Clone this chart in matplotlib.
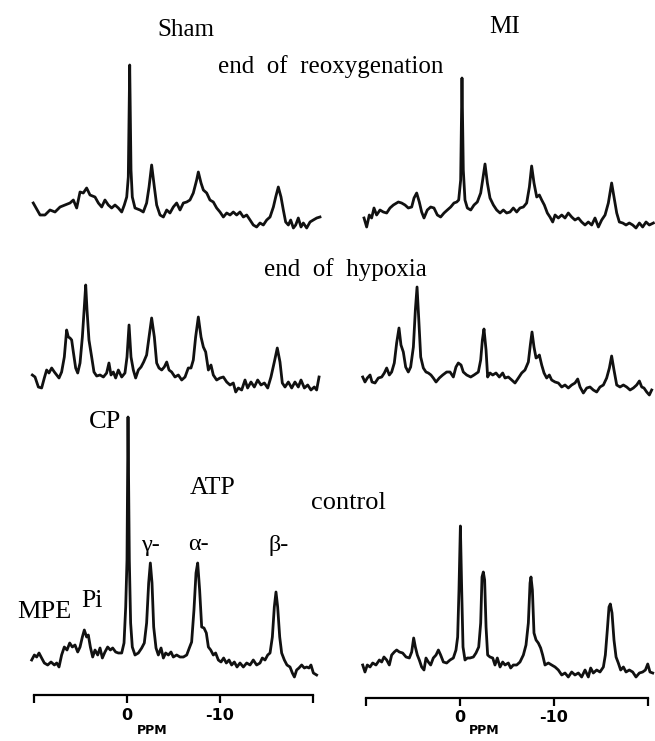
import numpy as np
import matplotlib.pyplot as plt

# 31P NMR spectra of hearts, Sham vs MI.
# Each spectrum is a list of (ppm, intensity) pairs, intensity in
# arbitrary units above the trace's own baseline.

sham_reox = [(10.08, 12), (9.35, 0), (8.82, 0), (8.28, 5), (7.74, 3), (7.20, 8), (6.67, 10),
             (6.13, 12), (5.77, 15), (5.41, 7), (5.05, 23), (4.70, 22), (4.34, 27), (3.98, 20),
             (3.44, 18), (3.08, 12), (2.72, 8), (2.37, 15), (2.01, 10), (1.65, 7), (1.29, 10),
             (0.93, 7), (0.57, 3), (0.29, 10), (0.03, 18), (-0.14, 38), (-0.29, 150), (-0.43, 45),
             (-0.57, 18), (-0.86, 7), (-1.40, 5), (-1.75, 3), (-2.11, 12), (-2.37, 28), (-2.65, 50),
             (-2.94, 28), (-3.19, 10), (-3.55, 0), (-3.91, -2), (-4.27, 5), (-4.62, 2), (-4.98, 8),
             (-5.34, 12), (-5.70, 5), (-6.06, 12), (-6.42, 13), (-6.77, 15), (-7.13, 22), (-7.49, 35),
             (-7.67, 43), (-7.96, 32), (-8.21, 25), (-8.57, 22), (-8.92, 15), (-9.28, 13), (-9.64, 7),
             (-10.00, 3), (-10.36, -2), (-10.72, 2), (-11.08, 0), (-11.43, 3), (-11.79, 0), (-12.15, 3),
             (-12.51, -2), (-12.87, 0), (-13.23, -5), (-13.58, -10), (-13.94, -12), (-14.30, -8),
             (-14.66, -10), (-15.02, -5), (-15.38, -2), (-15.74, 8), (-15.99, 18), (-16.27, 28),
             (-16.56, 18), (-16.81, 5), (-17.06, -7), (-17.35, -10), (-17.60, -5), (-17.89, -13),
             (-18.14, -10), (-18.42, -3), (-18.71, -12), (-18.96, -8), (-19.32, -13), (-19.68, -7),
             (-20.03, -5), (-20.40, -3), (-20.75, -2)]

mi_reox = [(10.21, -3), (9.93, -12), (9.65, 0), (9.40, -3), (9.15, 7), (8.87, 0), (8.51, 5),
           (8.16, 3), (7.80, 2), (7.45, 7), (7.09, 10), (6.56, 13), (6.21, 12), (5.85, 10),
           (5.50, 7), (5.14, 8), (4.89, 17), (4.61, 22), (4.33, 13), (4.08, 3), (3.83, -3),
           (3.48, 5), (3.12, 8), (2.77, 7), (2.41, 0), (2.06, -2), (1.70, 2), (1.35, 5), (0.99, 8),
           (0.64, 12), (0.35, 13), (0.14, 15), (-0.07, 35), (-0.21, 137), (-0.35, 45), (-0.53, 15),
           (-0.78, 7), (-1.14, 5), (-1.49, 10), (-1.84, 13), (-2.20, 22), (-2.41, 35), (-2.66, 51),
           (-2.91, 32), (-3.19, 17), (-3.55, 10), (-3.90, 5), (-4.26, 2), (-4.61, 5), (-4.96, 2),
           (-5.32, 3), (-5.67, 7), (-6.03, 3), (-6.38, 7), (-6.74, 8), (-7.09, 12), (-7.38, 28),
           (-7.62, 49), (-7.87, 32), (-8.16, 18), (-8.44, 20), (-8.69, 15), (-8.97, 10), (-9.29, 2),
           (-9.57, -2), (-9.86, -7), (-10.11, 0), (-10.46, -3), (-10.82, 0), (-11.17, -3),
           (-11.52, 2), (-11.88, -2), (-12.23, -5), (-12.59, -3), (-12.94, -7), (-13.30, -10),
           (-13.65, -7), (-14.01, -10), (-14.36, -3), (-14.72, -12), (-15.07, -5), (-15.43, 0),
           (-15.78, 12), (-16.13, 32), (-16.38, 18), (-16.67, 2), (-16.95, -7), (-17.31, -8),
           (-17.66, -10), (-18.01, -8), (-18.37, -10), (-18.72, -13), (-19.08, -8), (-19.43, -12),
           (-19.79, -7), (-20.14, -10), (-20.57, -8)]

sham_hyp = [(10.18, 0), (9.89, -2), (9.53, -12), (9.18, -13), (8.89, -3), (8.64, 5), (8.39, 2),
            (8.10, 7), (7.81, 3), (7.56, 0), (7.31, -3), (7.03, 3), (6.74, 18), (6.49, 45),
            (6.31, 38), (6.13, 37), (5.95, 35), (5.77, 23), (5.52, 7), (5.30, 2), (5.05, 12),
            (4.80, 38), (4.59, 68), (4.44, 90), (4.30, 65), (4.09, 35), (3.80, 18), (3.55, 3),
            (3.26, -1), (2.90, 0), (2.54, -2), (2.19, 2), (1.94, 12), (1.72, 0), (1.47, 3),
            (1.22, -3), (0.93, 5), (0.57, -2), (0.22, 2), (0.00, 18), (-0.22, 50), (-0.43, 18),
            (-0.68, 5), (-0.93, -3), (-1.22, 5), (-1.51, 8), (-1.79, 13), (-2.11, 20), (-2.37, 38),
            (-2.65, 57), (-2.94, 38), (-3.19, 12), (-3.44, 7), (-3.73, 5), (-4.01, 8), (-4.27, 13),
            (-4.52, 5), (-4.80, 3), (-5.16, -2), (-5.52, 0), (-5.88, -5), (-6.24, -2), (-6.59, 7),
            (-6.88, 7), (-7.13, 15), (-7.38, 38), (-7.67, 58), (-7.96, 38), (-8.21, 28), (-8.46, 23),
            (-8.75, 5), (-9.03, 10), (-9.28, 0), (-9.64, -5), (-10.00, -3), (-10.36, -2), (-10.72, -7),
            (-11.08, -10), (-11.43, -8), (-11.69, -17), (-11.97, -13), (-12.33, -15), (-12.69, -5),
            (-12.97, -13), (-13.33, -7), (-13.69, -12), (-14.05, -5), (-14.41, -10), (-14.77, -8),
            (-15.13, -13), (-15.48, -2), (-15.84, 13), (-16.16, 27), (-16.45, 13), (-16.70, -8),
            (-16.99, -12), (-17.35, -7), (-17.71, -13), (-18.06, -7), (-18.42, -12), (-18.71, -5),
            (-19.07, -13), (-19.43, -10), (-19.78, -15), (-20.14, -12), (-20.39, -15), (-20.65, -2)]

mi_hyp = [(10.35, -2), (10.11, -7), (9.86, -3), (9.57, 0), (9.36, -7), (9.04, -8), (8.69, -3),
          (8.33, -2), (8.05, 2), (7.80, 7), (7.52, 0), (7.27, 3), (6.99, 12), (6.74, 32),
          (6.49, 47), (6.28, 30), (6.03, 23), (5.78, 8), (5.50, 3), (5.25, 8), (4.96, 28),
          (4.75, 65), (4.57, 88), (4.40, 58), (4.18, 18), (3.90, 7), (3.62, 3), (3.37, 2),
          (3.09, 0), (2.84, -3), (2.55, -7), (2.20, -3), (1.84, 0), (1.42, 3), (1.06, 3),
          (0.71, -2), (0.43, 8), (0.18, 12), (-0.11, 10), (-0.35, 3), (-0.71, 0), (-1.14, -2),
          (-1.49, 0), (-1.95, 3), (-2.20, 15), (-2.38, 35), (-2.55, 46), (-2.77, 25), (-2.94, -2),
          (-3.19, 2), (-3.48, 0), (-3.83, 2), (-4.18, -2), (-4.54, 2), (-4.79, -3), (-5.14, -2),
          (-5.50, -5), (-5.85, -8), (-6.21, -3), (-6.56, 2), (-6.91, 5), (-7.27, 13), (-7.48, 30),
          (-7.66, 43), (-7.87, 28), (-8.09, 17), (-8.26, 18), (-8.44, 20), (-8.69, 10), (-8.94, 2),
          (-9.22, -3), (-9.50, 0), (-9.75, -5), (-10.11, -7), (-10.46, -8), (-10.82, -12),
          (-11.17, -10), (-11.52, -13), (-11.88, -10), (-12.23, -8), (-12.52, -4), (-12.77, -12),
          (-13.12, -18), (-13.48, -13), (-13.83, -12), (-14.18, -15), (-14.54, -17), (-14.89, -12),
          (-15.25, -10), (-15.60, -3), (-15.89, 7), (-16.13, 19), (-16.38, 5), (-16.67, -10),
          (-17.02, -12), (-17.38, -10), (-17.73, -12), (-18.09, -15), (-18.44, -13), (-18.79, -10),
          (-19.08, -6), (-19.33, -12), (-19.57, -13), (-19.86, -17), (-20.14, -20), (-20.39, -15)]

sham_ctrl = [(10.25, 0), (9.96, 5), (9.71, 3), (9.46, 7), (9.18, 2), (8.89, -3), (8.53, -5),
             (8.17, -2), (7.81, -5), (7.56, -3), (7.31, -7), (7.03, 5), (6.74, 13), (6.45, 10),
             (6.16, 17), (5.88, 13), (5.59, 15), (5.30, 8), (5.05, 13), (4.80, 23), (4.59, 30),
             (4.34, 23), (4.16, 25), (3.94, 13), (3.69, 3), (3.44, 10), (3.15, 5), (2.90, 12),
             (2.65, 2), (2.37, 8), (2.08, 13), (1.79, 10), (1.54, 12), (1.22, 8), (0.93, 7),
             (0.57, 7), (0.32, 17), (0.14, 53), (0.00, 100), (-0.11, 243), (-0.25, 100), (-0.39, 37),
             (-0.57, 13), (-0.86, 5), (-1.22, 7), (-1.58, 12), (-1.86, 17), (-2.11, 37), (-2.33, 77),
             (-2.51, 97), (-2.69, 77), (-2.87, 33), (-3.12, 12), (-3.37, 5), (-3.66, 12), (-3.91, 2),
             (-4.16, 7), (-4.45, 5), (-4.73, 8), (-4.98, 3), (-5.34, 5), (-5.70, 3), (-6.06, 3),
             (-6.42, 5), (-6.70, 12), (-6.95, 18), (-7.20, 50), (-7.42, 87), (-7.60, 97), (-7.81, 70),
             (-8.03, 33), (-8.28, 32), (-8.53, 27), (-8.75, 13), (-9.00, 10), (-9.28, 5), (-9.53, 7),
             (-9.82, 0), (-10.11, -2), (-10.39, 2), (-10.68, -3), (-10.97, 0), (-11.25, -5),
             (-11.54, -2), (-11.83, -7), (-12.15, -3), (-12.51, -7), (-12.87, -3), (-13.23, -5),
             (-13.58, 0), (-13.94, -5), (-14.30, -3), (-14.55, 2), (-14.84, 0), (-15.13, 5),
             (-15.38, 7), (-15.63, 23), (-15.84, 53), (-16.02, 68), (-16.20, 53), (-16.42, 23),
             (-16.63, 7), (-16.92, 0), (-17.20, -5), (-17.53, -7), (-17.78, -13), (-18.00, -17),
             (-18.24, -10), (-18.49, -8), (-18.78, -5), (-19.07, -8), (-19.32, -7), (-19.57, -8),
             (-19.78, -5), (-20.04, -13), (-20.39, -15)]

mi_ctrl = [(10.35, 0), (10.11, -7), (9.86, 0), (9.57, -2), (9.29, 2), (8.94, 0), (8.58, 5),
           (8.33, 3), (8.09, 8), (7.80, 5), (7.52, 0), (7.27, 10), (6.99, 13), (6.74, 15),
           (6.45, 13), (6.10, 12), (5.74, 8), (5.39, 7), (5.14, 13), (4.93, 27), (4.75, 18),
           (4.54, 10), (4.33, 5), (4.08, -2), (3.83, -5), (3.62, 7), (3.37, 3), (3.12, 0),
           (2.84, 7), (2.55, 10), (2.30, 15), (2.06, 10), (1.77, 3), (1.42, 2), (1.06, 5),
           (0.71, 7), (0.43, 15), (0.25, 28), (0.11, 75), (-0.04, 139), (-0.18, 75), (-0.32, 18),
           (-0.53, 5), (-0.78, 7), (-1.06, 7), (-1.42, 8), (-1.70, 12), (-1.99, 18), (-2.20, 42),
           (-2.34, 88), (-2.48, 93), (-2.62, 85), (-2.77, 38), (-2.94, 10), (-3.19, 8), (-3.48, 7),
           (-3.72, 0), (-3.97, 7), (-4.26, -2), (-4.54, 3), (-4.79, 0), (-5.14, 2), (-5.39, -3),
           (-5.67, 0), (-6.03, 0), (-6.38, 3), (-6.74, 10), (-7.02, 20), (-7.27, 42), (-7.45, 82),
           (-7.55, 88), (-7.70, 75), (-7.87, 32), (-8.09, 25), (-8.33, 22), (-8.58, 17), (-8.79, 10),
           (-9.04, 0), (-9.40, 2), (-9.75, 0), (-10.11, -2), (-10.46, -5), (-10.82, -10),
           (-11.17, -8), (-11.52, -12), (-11.88, -7), (-12.23, -10), (-12.59, -8), (-12.94, -12),
           (-13.30, -5), (-13.65, -12), (-13.90, -3), (-14.18, -8), (-14.54, -5), (-14.89, -7),
           (-15.25, -2), (-15.46, 10), (-15.67, 35), (-15.85, 58), (-15.99, 61), (-16.17, 52),
           (-16.38, 25), (-16.60, 8), (-16.84, 2), (-17.09, -5), (-17.38, -2), (-17.66, -7),
           (-18.01, -5), (-18.37, -7), (-18.72, -12), (-19.08, -8), (-19.43, -7), (-19.72, -5),
           (-19.97, 1), (-20.21, -7), (-20.50, -8)]

tick_ppm = [10, 0, -10, -20]
tick_text = ['', '0', '-10', '']

W, H = 655, 741
fig = plt.figure(figsize=(W / 100, H / 100), dpi=100)
serif = ['Liberation Serif', 'DejaVu Serif']


def fxy(x, y):
    # pixel position on the page -> figure fraction
    return x / W, 1 - y / H


def column(x0, x1, lim, axis_y):
    ax = fig.add_axes([x0 / W, 0, (x1 - x0) / W, 1])
    ax.set_xlim(*lim)
    ax.set_ylim(0, H)
    for s in ['top', 'left', 'right']:
        ax.spines[s].set_visible(False)
    ax.spines['bottom'].set_position(('data', H - axis_y))
    ax.spines['bottom'].set_bounds(-20, 10)
    ax.spines['bottom'].set_linewidth(1.6)
    ax.set_yticks([])
    ax.set_xticks(tick_ppm)
    ax.set_xticklabels(tick_text, fontsize=11.5, fontweight='bold', family='DejaVu Sans')
    ax.tick_params(axis='x', direction='out', length=6, width=1.6, pad=3)
    ax.patch.set_visible(False)
    return ax


axL = column(29.35, 322.3, (10.5, -21.0), 695)
axR = column(361.3, 654.6, (10.5, -20.7), 698)

# baseline height (from page bottom) of each stacked trace
traces = [(axL, sham_reox, H - 215), (axR, mi_reox, H - 215),
          (axL, sham_hyp, H - 375), (axR, mi_hyp, H - 375),
          (axL, sham_ctrl, H - 660), (axR, mi_ctrl, H - 665)]
for ax, spec, base in traces:
    d = np.array(spec)
    ax.plot(d[:, 0], base + d[:, 1], color='#111111', lw=2.0, solid_joinstyle='round')

labels = [('Sham', 186, 30, 18), ('MI', 505, 27, 18),
          ('end  of  reoxygenation', 331, 67, 18), ('end  of  hypoxia', 345, 270, 18),
          ('CP', 105, 422, 19), ('ATP', 213, 488, 18.5), ('control', 348, 503, 19),
          ('γ-', 150, 545, 17.5), ('α-', 198, 545, 17.5), ('β-', 279, 545, 17.5),
          ('MPE', 44, 612, 19), ('Pi', 92, 601, 18.5)]
for txt, x, y, fs in labels:
    fig.text(*fxy(x, y), txt, ha='center', va='center', fontsize=fs, family=serif)

for x in [152, 484]:
    fig.text(*fxy(x, 731), 'PPM', ha='center', va='center', fontsize=9,
             fontweight='bold', family='DejaVu Sans')

plt.savefig('out.png', dpi=100)
